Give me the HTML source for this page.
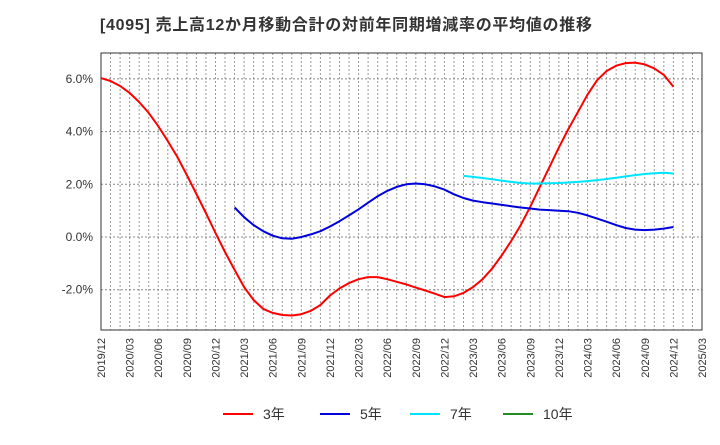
<!DOCTYPE html>
<html><head><meta charset="utf-8"><style>
body{margin:0;background:#fff;font-family:"Liberation Sans","Noto Sans CJK JP",sans-serif;}
svg text{font-family:"Liberation Sans","Noto Sans CJK JP",sans-serif;}
</style></head><body>
<svg id="chart" width="720" height="440" xmlns="http://www.w3.org/2000/svg">
<text x="100" y="30" font-size="16" font-weight="bold" fill="#333" textLength="492">[4095]  売上高12か月移動合計の対前年同期増減率の平均値の推移</text>
<g id="grid"></g><g id="axes"></g><g id="series"></g><g id="legend"></g>
</svg>
<script>
const xLabels=["2019/12","2020/03","2020/06","2020/09","2020/12","2021/03","2021/06","2021/09","2021/12","2022/03","2022/06","2022/09","2022/12","2023/03","2023/06","2023/09","2023/12","2024/03","2024/06","2024/09","2024/12","2025/03"];
const yTicks=[-2,0,2,4,6];
const s3=[6.03,5.92,5.73,5.47,5.12,4.71,4.21,3.64,3.04,2.35,1.63,0.91,0.15,-0.57,-1.25,-1.9,-2.39,-2.73,-2.88,-2.96,-2.98,-2.93,-2.8,-2.58,-2.22,-1.95,-1.75,-1.6,-1.52,-1.52,-1.6,-1.7,-1.8,-1.92,-2.03,-2.15,-2.28,-2.25,-2.12,-1.9,-1.6,-1.2,-0.7,-0.15,0.45,1.15,1.9,2.65,3.4,4.1,4.75,5.4,5.95,6.3,6.5,6.6,6.62,6.55,6.4,6.15,5.7];
const s5Start=14;
const s5=[1.12,0.75,0.45,0.22,0.05,-0.05,-0.07,0.0,0.1,0.22,0.4,0.6,0.82,1.05,1.3,1.55,1.75,1.9,2.0,2.03,2.0,1.92,1.8,1.62,1.48,1.38,1.32,1.27,1.22,1.17,1.12,1.08,1.04,1.02,1.0,0.98,0.92,0.82,0.7,0.58,0.45,0.34,0.28,0.26,0.28,0.32,0.38];
const s7Start=38;
const s7=[2.32,2.28,2.24,2.19,2.14,2.09,2.05,2.03,2.03,2.04,2.05,2.07,2.09,2.12,2.16,2.2,2.25,2.3,2.35,2.39,2.42,2.44,2.41];
const NS="http://www.w3.org/2000/svg";
const L=101,R=702,T=53,B=330,nM=63;
const x=m=>L+(R-L)*m/nM;
const y=v=>237-v*26.35;
function mk(tag,at,parent){const e=document.createElementNS(NS,tag);for(const k in at)e.setAttribute(k,at[k]);document.getElementById(parent).appendChild(e);return e;}
for(let m=1;m<nM;m++){const e=mk('line',{x1:x(m),x2:x(m),y1:T,y2:B,stroke:'#999','stroke-dasharray':'2,2','stroke-width':1},'grid');

}
yTicks.forEach(v=>{const e=mk('line',{x1:L,x2:R,y1:y(v),y2:y(v),stroke:'#888','stroke-dasharray':'2,2'},'grid');


const t=mk('text',{x:L-8,y:y(v)+4,'text-anchor':'end','font-size':12,fill:'#333'},'axes');t.textContent=v.toFixed(1)+'%';

});
const fr=mk('rect',{x:L,y:T,width:R-L,height:B-T,fill:'none',stroke:'#333'},'axes');


xLabels.forEach((s,i)=>{const px=x(i*3);const t=mk('text',{x:px+4,y:B+8,'text-anchor':'end','font-size':11,fill:'#333',transform:`rotate(-90 ${px+4} ${B+8})`},'axes');t.textContent=s;

});
function line(data,start,color,name){const p=data.map((v,i)=>x(start+i).toFixed(1)+','+y(v).toFixed(1)).join(' ');
const e=mk('polyline',{points:p,fill:'none',stroke:color,'stroke-width':2,'stroke-linejoin':'round'},'series');

}
line(s3,0,'#ff0000','series-3yr');
line(s5,s5Start,'#0000dd','series-5yr');
line(s7,s7Start,'#00e5ff','series-7yr');
const leg=[['3年','#ff0000',223],['5年','#0000dd',320],['7年','#00e5ff',410],['10年','#228b22',503]];
leg.forEach(([lab,c,lx])=>{const l=mk('line',{x1:lx,x2:lx+30,y1:414,y2:414,stroke:c,'stroke-width':2},'legend');


const t=mk('text',{x:lx+40,y:419,'font-size':14,fill:'#333'},'legend');t.textContent=lab;

});
</script>
</body></html>
